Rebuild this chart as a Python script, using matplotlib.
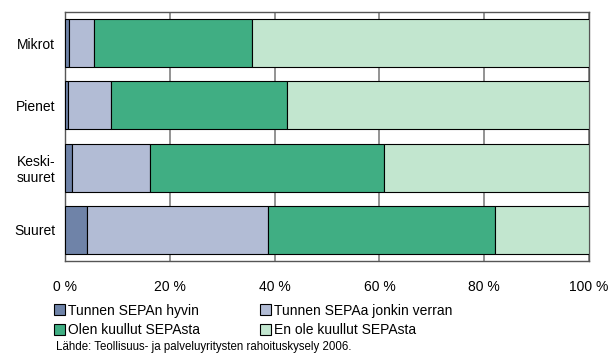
import matplotlib
matplotlib.use("Agg")
import matplotlib.pyplot as plt
from matplotlib.patches import Patch
import numpy as np

plt.rcParams['font.family'] = ['Liberation Sans', 'DejaVu Sans']

categories = ["Mikrot", "Pienet", "Keski-\nsuuret", "Suuret"]
series_names = ["Tunnen SEPAn hyvin", "Tunnen SEPAa jonkin verran",
                "Olen kuullut SEPAsta", "En ole kuullut SEPAsta"]
tunnen_hyvin = [0.8, 0.6, 1.3, 4.2]
tunnen_jonkin = [4.8, 8.2, 15.0, 34.5]
olen_kuullut = [30.1, 33.6, 44.6, 43.3]
en_ole = [64.3, 57.6, 39.1, 18.0]
xticks = [0, 20, 40, 60, 80, 100]
xtick_labels = ["0 %", "20 %", "40 %", "60 %", "80 %", "100 %"]
source = "Lähde: Teollisuus- ja palveluyritysten rahoituskysely 2006."

colors = ["#6F83A8", "#B2BCD5", "#40AE83", "#C2E6CF"]

fig = plt.figure(figsize=(6.11, 3.58), dpi=100)
ax = fig.add_axes([65/611, 1-261/358, 524/611, 249/358])

y = np.arange(len(categories))
left = np.zeros(len(categories))
for vals, c, name in zip([tunnen_hyvin, tunnen_jonkin, olen_kuullut, en_ole], colors, series_names):
    ax.barh(y, vals, left=left, height=0.77, color=c, edgecolor="black", linewidth=0.8, label=name, zorder=3)
    left += np.array(vals)

ax.set_ylim(len(categories) - 0.5, -0.5)
ax.set_xlim(0, 100)
ax.set_yticks(y)
ax.set_yticklabels(categories, fontsize=10)
for t in ax.get_yticklabels():
    t.set_multialignment("center")
ax.set_xticks(xticks)
ax.set_xticklabels(xtick_labels, fontsize=10)
ax.tick_params(axis="y", length=0, pad=7)
ax.tick_params(axis="x", length=0, pad=14)
ax.xaxis.grid(True, color="#808080", linewidth=1.2, zorder=0)
for s in ax.spines.values():
    s.set_color("#555555")
    s.set_linewidth(1.0)

handles = [Patch(facecolor=c, edgecolor="black", linewidth=0.8) for c in colors]
order = [0, 2, 1, 3]
fig.legend([handles[i] for i in order], [series_names[i] for i in order],
           loc="upper left", bbox_to_anchor=(54/611, 1-303.5/358),
           ncol=2, frameon=False, fontsize=10, handlelength=0.8, handleheight=0.8,
           handletextpad=0.2, columnspacing=4.3, labelspacing=0.42, borderpad=0, borderaxespad=0)

fig.text(56/611, 1-347/358, source, fontsize=8.3, va="center", ha="left")

fig.savefig("out.png", dpi=100)
